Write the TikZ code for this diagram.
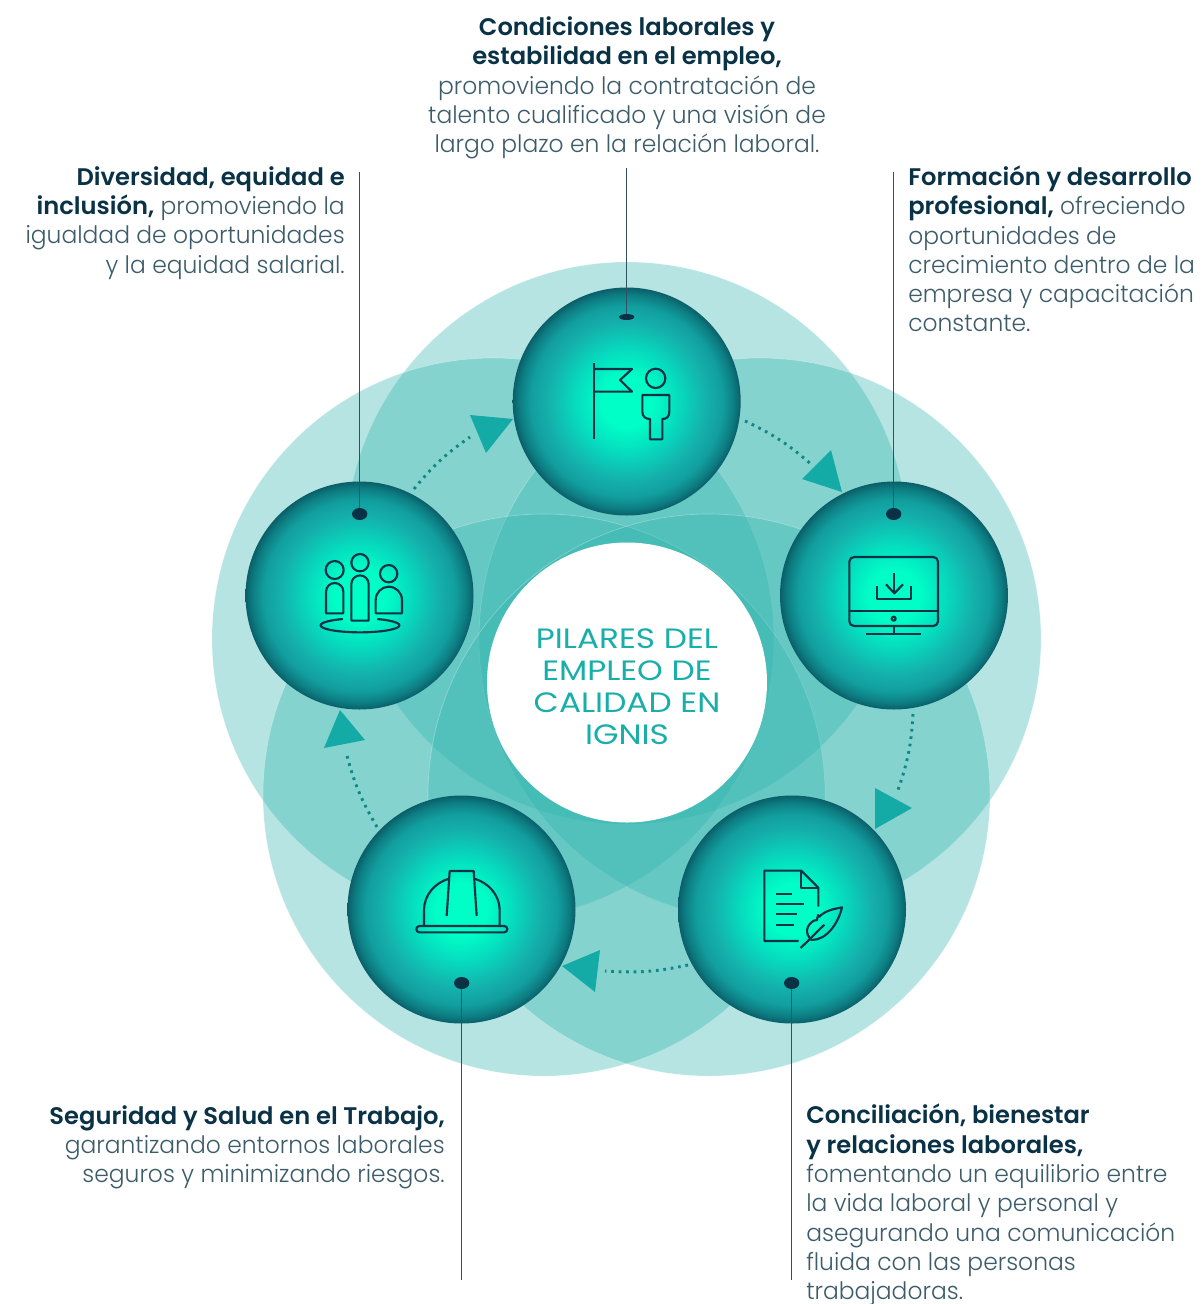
\documentclass[tikz,border=0pt]{standalone}
\usepackage{fontspec}
\usetikzlibrary{shapes.geometric}
\setmainfont{Poppins Light}[FakeStretch=0.975]
\newfontfamily\semib{Poppins SemiBold}[FakeStretch=1.008]
\newfontfamily\titlef[FakeStretch=1.17]{Poppins}
\definecolor{dark}{RGB}{10,50,70}
\definecolor{body}{RGB}{60,92,106}
\definecolor{veil}{RGB}{45,180,174}
\definecolor{tealA}{RGB}{20,170,166}
\definecolor{dotc}{RGB}{15,135,135}
\definecolor{head}{RGB}{26,174,170}
\pgfdeclareradialshading{orb}{\pgfpoint{0bp}{0bp}}{
 rgb(0bp)=(0,1,0.78);
 rgb(5.5bp)=(0,1,0.78);
 rgb(11bp)=(0.02,0.87,0.75);
 rgb(17.5bp)=(0.08,0.69,0.67);
 rgb(21bp)=(0.07,0.62,0.62);
 rgb(23.5bp)=(0.05,0.49,0.51);
 rgb(25bp)=(0.04,0.37,0.41);
 rgb(50bp)=(0.04,0.37,0.41)}
\tikzset{
 x=0.75pt,y=-0.75pt,
 veilc/.style={fill=veil,fill opacity=0.35,draw=white,draw opacity=0.3,line width=0.5pt},
 sphere/.style={circle,minimum size=171pt,inner sep=0pt,shading=orb},
 leader/.style={draw=dark!85,line width=0.7pt},
 pin/.style={ellipse,fill=dark,draw=none,inner sep=0pt,minimum width=11.5pt,minimum height=9pt},
 pinflat/.style={ellipse,fill=dark,draw=none,inner sep=0pt,minimum width=11.5pt,minimum height=4.5pt},
 trail/.style={draw=dotc,line width=2.2pt,dash pattern=on 2pt off 3.6pt},
 tip/.style={fill=tealA,draw=none},
 ico/.style={draw=dark,line width=1.6pt,line join=round},
 zoomed/.style={x=0.25pt,y=-0.25pt},
 txt/.style={font=\fontsize{18}{21.95}\selectfont,text=body,inner sep=0pt},
}
\newcommand{\bd}[1]{{\semib\color{dark}#1}}
\begin{document}
\begin{tikzpicture}
\useasboundingbox (0,0) rectangle (1202,1304);
\fill[white] (0,0) rectangle (1202,1304);
% veils
\foreach \c in {(627,543),(493,639),(760,639),(544,795),(709,795)}
  \path[veilc] \c circle[radius=281];
\node[circle,fill=white,minimum size=210pt,inner sep=0pt] (hub) at (627,682.5) {};
\node[font=\titlef\fontsize{21}{24}\selectfont,text=head,align=center,inner sep=0pt] (title) at (627,687) {PILARES DEL\\EMPLEO DE\\CALIDAD EN\\IGNIS};
% spheres
\node[sphere] (top) at (626.7,401.5) {};
\node[sphere] (lft) at (359.5,595.5) {};
\node[sphere] (rgt) at (894,595.5) {};
\node[sphere] (br) at (792,909.5) {};
\node[sphere] (bl) at (461.5,909.5) {};
% pins and leaders
\node[pinflat] (ptop) at (626.7,317) {};
\node[pin] (plft) at (359.7,514) {};
\node[pin] (prgt) at (893.7,514) {};
\node[pin] (pbr) at (791.7,983) {};
\node[pin] (pbl) at (461.7,983) {};
\coordinate (etop) at (626.7,168);
\coordinate (elft) at (359.7,172);
\coordinate (ergt) at (893.7,172);
\coordinate (ebr) at (791.7,1280);
\coordinate (ebl) at (461.7,1280);
\draw[leader] (etop) -- (ptop);
\draw[leader] (elft) -- (plft);
\draw[leader] (ergt) -- (prgt);
\draw[leader] (ebr) -- (pbr);
\draw[leader] (ebl) -- (pbl);
% dotted trails
\coordinate (a1) at (745,421); \coordinate (b1) at (812,465);
\coordinate (a2) at (913,714); \coordinate (b2) at (898,790);
\coordinate (a3) at (688,965); \coordinate (b3) at (605,971);
\coordinate (a4) at (377,827); \coordinate (b4) at (346,752);
\coordinate (a5) at (414,489); \coordinate (b5) at (470,437);
\draw[trail] (a1) to[bend left=8] (b1);
\draw[trail] (a2) to[bend left=8] (b2);
\draw[trail] (a3) to[bend left=8] (b3);
\draw[trail] (a4) to[bend left=8] (b4);
\draw[trail] (a5) to[bend left=8] (b5);
\fill[tip] (842,492) -- (831,450) -- (802,479) -- cycle;
\fill[tip] (912,808) -- (875,788) -- (875,829) -- cycle;
\fill[tip] (562,966) -- (600,950) -- (595,992) -- cycle;
\fill[tip] (340,710) -- (324,748) -- (365,740) -- cycle;
\fill[tip] (513,419) -- (470,415) -- (486,453) -- cycle;
% icon top
\begin{scope}[shift={(500,270)},zoomed]
\draw[ico] (281,280) -- (281,508);
\draw[ico] (281,297) -- (396,297) -- (360,330) -- (396,365) -- (281,365);
\draw[ico] (467,325) circle[radius=29];
\draw[ico] (427,375) -- (508,375) -- (508,425) .. controls (508,440) and (500,447) .. (487,447) -- (487,508) -- (450,508) -- (450,447) .. controls (437,447) and (427,440) .. (427,425) -- cycle;
\end{scope}
% icon left
\begin{scope}[shift={(240,480)},zoomed]
\draw[ico] (284,270) circle[radius=27];
\draw[ico] (360,248) circle[radius=26];
\draw[ico] (446,281) circle[radius=26];
\draw[ico] (258,400) -- (258,335) .. controls (258,320) and (270,309) .. (284,309) .. controls (298,309) and (310,320) .. (310,335) -- (310,400) -- cycle;
\draw[ico] (334,422) -- (334,312) .. controls (334,298) and (346,286) .. (360,286) .. controls (374,286) and (386,298) .. (386,312) -- (386,422) -- cycle;
\draw[ico] (407,400) -- (407,360) .. controls (407,338) and (425,320) .. (446,320) .. controls (468,320) and (486,338) .. (486,360) -- (486,400) -- cycle;
\draw[ico] plot[domain=-64:244,samples=70] ({360+118*cos(\x)},{436+21*sin(\x)});
\end{scope}
% icon right
\begin{scope}[shift={(780,480)},zoomed]
\draw[ico,rounded corners=3.5pt] (208,231) rectangle (474,438);
\draw[ico] (208,393) -- (474,393);
\draw[ico] (341,416) circle[radius=6];
\draw[ico] (341,438) -- (341,462);
\draw[ico] (258,462) -- (424,462);
\draw[ico] (290,318) -- (290,357) -- (392,357) -- (392,318);
\draw[ico] (343,280) -- (343,340);
\draw[ico] (318,313) -- (343,340) -- (369,313);
\end{scope}
% icon bottom right
\begin{scope}[shift={(680,790)},zoomed]
\draw[ico] (356,453) -- (253,453) -- (253,242) -- (364,242) -- (415,293) -- (415,350);
\draw[ico] (364,242) -- (364,293) -- (415,293);
\draw[ico] (288,313) -- (336,313);
\draw[ico] (288,343) -- (372,343);
\draw[ico] (288,373) -- (352,373);
\draw[ico] (288,404) -- (343,404);
\draw[ico] (486,352) .. controls (460,357) and (435,362) .. (418,380) -- (414,375) -- (411,390) -- (401,392) .. controls (380,405) and (372,430) .. (395,450) .. controls (440,450) and (475,400) .. (486,352) -- cycle;
\draw[ico] (362,474) -- (433,404);
\end{scope}
% icon bottom left
\begin{scope}[shift={(340,790)},zoomed]
\draw[ico,rounded corners=2.3pt] (229,408) rectangle (502,427);
\draw[ico] (252,408) -- (252,360) .. controls (252,315) and (285,278) .. (327,266);
\draw[ico] (403,266) .. controls (445,278) and (479,315) .. (479,360) -- (479,408);
\draw[ico] (320,378) -- (329,243) -- (401,243) -- (410,378);
\end{scope}
% texts
\node[txt,align=center] (t1) at (627,88) {\bd{Condiciones laborales y}\\\bd{estabilidad en el empleo,}\\promoviendo la contratación de\\talento cualificado y una visión de\\largo plazo en la relación laboral.};
\node[txt,align=right,anchor=east] (t2) at (345,223) {\bd{Diversidad, equidad e}\\\bd{inclusión,} promoviendo la\\igualdad de oportunidades\\y la equidad salarial.};
\node[txt,align=left,anchor=west] (t3) at (908,249) {\bd{Formación y desarrollo}\\\bd{profesional,} ofreciendo\\oportunidades de\\crecimiento dentro de la\\empresa y capacitación\\constante.};
\node[txt,align=right,anchor=east] (t4) at (445,1147.5) {\bd{Seguridad y Salud en el Trabajo,}\\garantizando entornos laborales\\seguros y minimizando riesgos.};
\node[txt,align=left,anchor=west] (t5) at (806,1205) {\bd{Conciliación, bienestar}\\\bd{y relaciones laborales,}\\fomentando un equilibrio entre\\la vida laboral y personal y\\asegurando una comunicación\\fluida con las personas\\trabajadoras.};
\end{tikzpicture}
\end{document}
